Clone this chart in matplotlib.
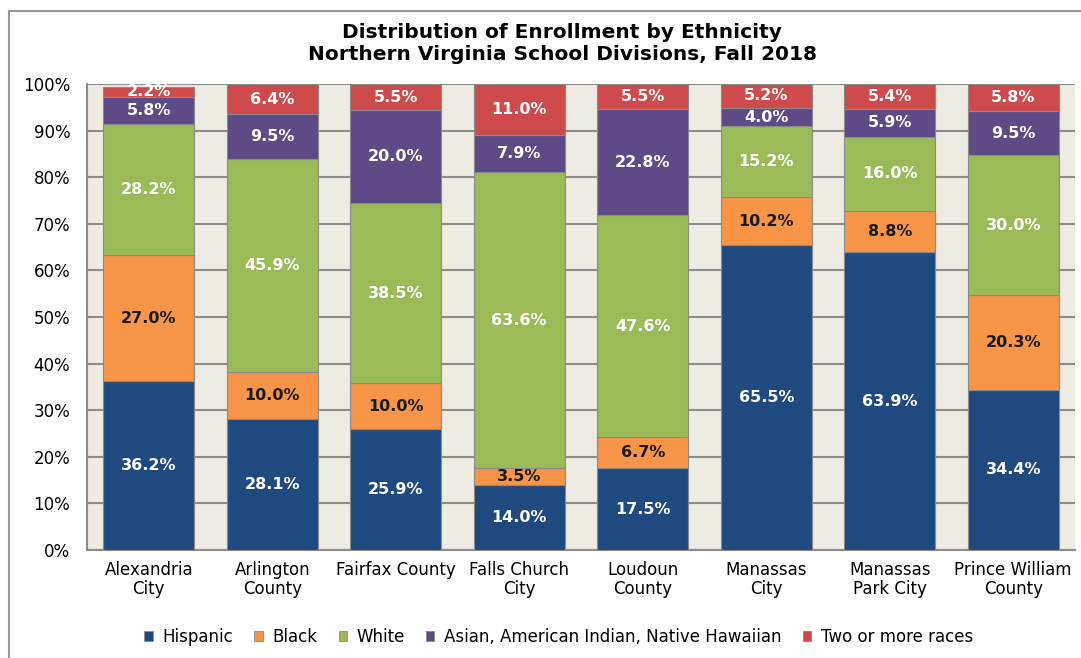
import numpy as np
import matplotlib.pyplot as plt
from matplotlib.patches import Patch
from matplotlib.lines import Line2D

divisions = ["Alexandria\nCity", "Arlington\nCounty", "Fairfax County", "Falls Church\nCity",
             "Loudoun\nCounty", "Manassas\nCity", "Manassas\nPark City", "Prince William\nCounty"]
groups = ["Hispanic", "Black", "White", "Asian, American Indian, Native Hawaiian", "Two or more races"]

hispanic = [36.2, 28.1, 25.9, 14.0, 17.5, 65.5, 63.9, 34.4]
black = [27.0, 10.0, 10.0, 3.5, 6.7, 10.2, 8.8, 20.3]
white = [28.2, 45.9, 38.5, 63.6, 47.6, 15.2, 16.0, 30.0]
asian = [5.8, 9.5, 20.0, 7.9, 22.8, 4.0, 5.9, 9.5]
multi = [2.2, 6.4, 5.5, 11.0, 5.5, 5.2, 5.4, 5.8]

colors = ["#1f4a80", "#f79446", "#9bbb59", "#5e4a86", "#cf4b4b"]
text_colors = ["white", "#1a1a1a", "white", "white", "white"]

series = np.array([hispanic, black, white, asian, multi])

fig = plt.figure(figsize=(10.81, 6.58), dpi=100)
ax = fig.add_axes([87 / 1081, 1 - 550 / 658, (1075 - 87) / 1081, (550 - 84) / 658])
ax.set_facecolor("#eeebe2")

x = np.arange(len(divisions))
bottom = np.zeros(len(divisions))
for i, g in enumerate(groups):
    ax.bar(x, series[i], 0.74, bottom=bottom, color=colors[i], edgecolor="#8a8a8a",
           linewidth=0.8, label=g, zorder=3)
    for xi, b, h in zip(x, bottom, series[i]):
        # keep the label inside the visible part of the bar
        mid = (b + min(b + h, 100)) / 2
        ax.text(xi, mid, f"{h:.1f}%", ha="center", va="center", fontsize=11.5,
                fontweight="bold", color=text_colors[i], zorder=4)
    bottom += series[i]

ax.set_xlim(-0.5, len(divisions) - 0.5)
ax.set_ylim(0, 100)
ax.set_yticks(np.arange(0, 101, 10))
ax.set_yticklabels([f"{t}%" for t in range(0, 101, 10)], fontsize=12)
ax.set_xticks(x)
ax.set_xticklabels(divisions, fontsize=12, linespacing=1.05)
ax.tick_params(axis="y", length=0, pad=12)
ax.tick_params(axis="x", length=0, pad=8)
ax.grid(axis="y", color="#8c8c8c", linewidth=1.5, zorder=0)
ax.set_axisbelow(True)
for s in ["top", "right"]:
    ax.spines[s].set_visible(False)
for s in ["left", "bottom"]:
    ax.spines[s].set_color("#8c8c8c")
    ax.spines[s].set_linewidth(1.5)

fig.text(0.52, 1 - 32 / 658, "Distribution of Enrollment by Ethnicity", ha="center",
         va="center", fontsize=14.5, fontweight="bold")
fig.text(0.52, 1 - 55 / 658, "Northern Virginia School Divisions, Fall 2018", ha="center",
         va="center", fontsize=14.5, fontweight="bold")

handles = [Patch(facecolor=c, edgecolor="#8a8a8a", linewidth=0.6) for c in colors]
fig.legend(handles, groups, loc="center", bbox_to_anchor=(0.517, 1 - 637 / 658), ncol=5,
           frameon=False, fontsize=12, handlelength=0.5, handleheight=0.5,
           handletextpad=0.6, columnspacing=1.25)

# outer chart frame (runs off the right and bottom edges)
fig.add_artist(Line2D([9 / 1081, 1.2], [1 - 11 / 658] * 2, color="#9a9a9a", linewidth=1.5))
fig.add_artist(Line2D([9 / 1081] * 2, [1 - 11 / 658, -0.2], color="#9a9a9a", linewidth=1.5))

fig.savefig("out.png", dpi=100)
